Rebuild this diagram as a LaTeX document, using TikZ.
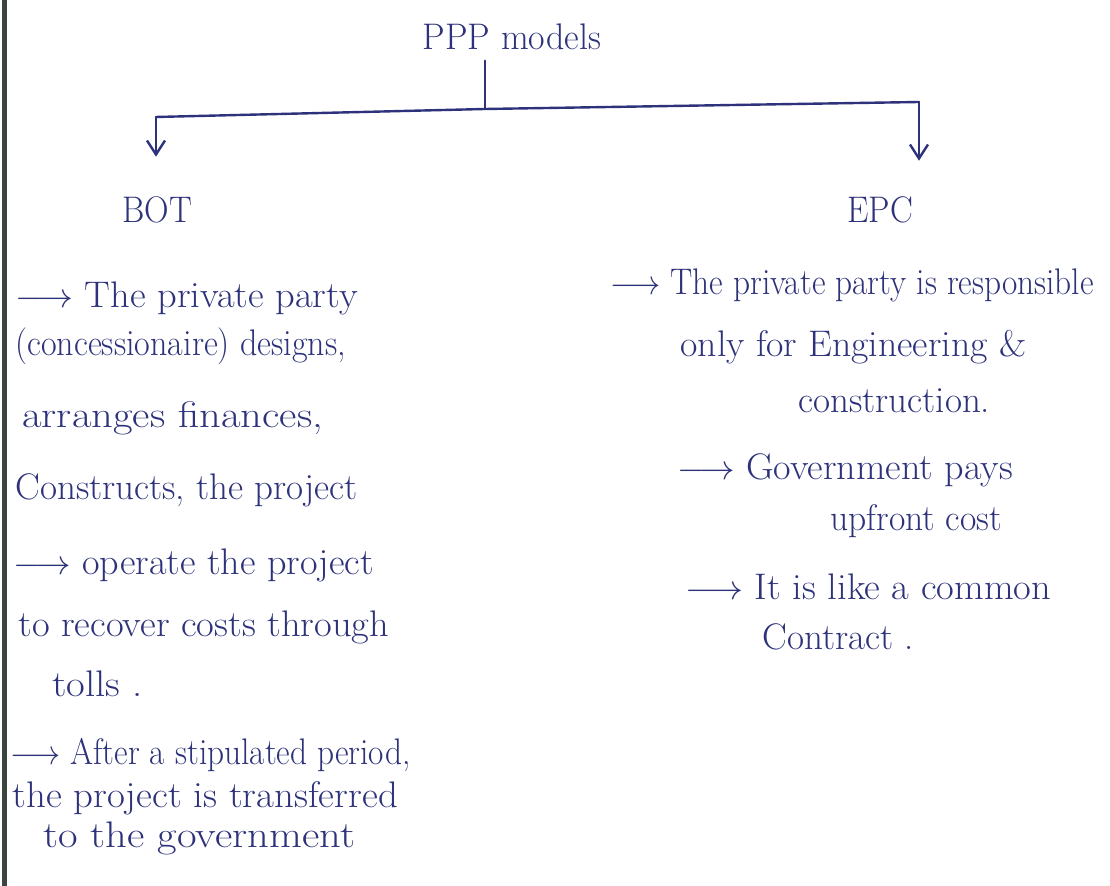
\documentclass[tikz,border=0pt]{standalone}
\usepackage{graphicx}
\usetikzlibrary{arrows.meta}
\definecolor{ink}{RGB}{45,50,122}
\definecolor{pageedge}{RGB}{58,68,64}
\newcommand{\bularrow}{$\longrightarrow$}
% horizontally stretched or squeezed line of text
\newcommand{\wline}[2]{\scalebox{#1}[1]{#2}}
\tikzset{
  txt/.style={text=ink, inner sep=0pt, font=\fontsize{18.5}{22}\selectfont},
  conn/.style={draw=ink, line width=1.2pt, line cap=round, line join=round},
  tip/.style={-{Straight Barb[length=7pt,width=9pt]}}
}
\begin{document}
\begin{tikzpicture}[x=0.5pt,y=-0.5pt]
\useasboundingbox (0,0) rectangle (1110,886);
\fill[white] (0,0) rectangle (1110,886);
% dark margin rule on the left
\fill[pageedge] (2,0) rectangle (7,886);

% heading and the two models
\node[txt, anchor=base] (ppp) at (512,50) {\wline{0.97}{PPP models}};
\node[txt, anchor=base] (bot) at (157,223) {\wline{0.92}{BOT}};
\node[txt, anchor=base] (epc) at (880,223) {\wline{0.92}{EPC}};

% branching connector
\coordinate (jm) at (485,109);
\coordinate (jl) at (156,117);
\coordinate (jr) at (919,102);
\draw[conn, shorten <=5pt] (ppp.south -| jm) -- (jm);
\draw[conn] (jl) -- (jm) -- (jr);
\draw[conn, tip, shorten >=20pt] (jl) -- (jl |- bot.north);
\draw[conn, tip, shorten >=18pt] (jr) -- (jr |- epc.north);

% BOT points
\node[txt, anchor=base west] (b1) at (15,308) {\wline{1.04}{\bularrow{} The private party}};
\node[txt, anchor=base west] (b2) at (15,356) {\wline{0.92}{(concessionaire) designs,}};
\node[txt, anchor=base west] (b3) at (22,428) {\wline{1.15}{arranges finances,}};
\node[txt, anchor=base west] (b4) at (15,500) {Constructs, the project};
\node[txt, anchor=base west] (b5) at (13,575) {\wline{1.03}{\bularrow{} operate the project}};
\node[txt, anchor=base west] (b6) at (18,637) {\wline{1.04}{to recover costs through}};
\node[txt, anchor=base west] (b7) at (52,697) {\wline{1.1}{tolls .}};
\node[txt, anchor=base west] (b8) at (10,765) {\wline{0.9}{\bularrow{} After a stipulated period,}};
\node[txt, anchor=base west] (b9) at (12,808) {\wline{1.05}{the project is transferred}};
\node[txt, anchor=base west] (b10) at (43,848) {\wline{1.15}{to the government}};

% EPC points
\node[txt, anchor=base west] (e1) at (610,295) {\wline{0.9}{\bularrow{} The private party is responsible}};
\node[txt, anchor=base west] (e2) at (680,357) {\wline{1.02}{only for Engineering \&}};
\node[txt, anchor=base west] (e3) at (798,413) {construction.};
\node[txt, anchor=base west] (e4) at (677,480) {\wline{1.03}{\bularrow{} Government pays}};
\node[txt, anchor=base west] (e5) at (830,531) {\wline{0.96}{upfront cost}};
\node[txt, anchor=base west] (e6) at (685,600) {\wline{1.04}{\bularrow{} It is like a common}};
\node[txt, anchor=base west] (e7) at (762,650) {Contract .};
\end{tikzpicture}
\end{document}
